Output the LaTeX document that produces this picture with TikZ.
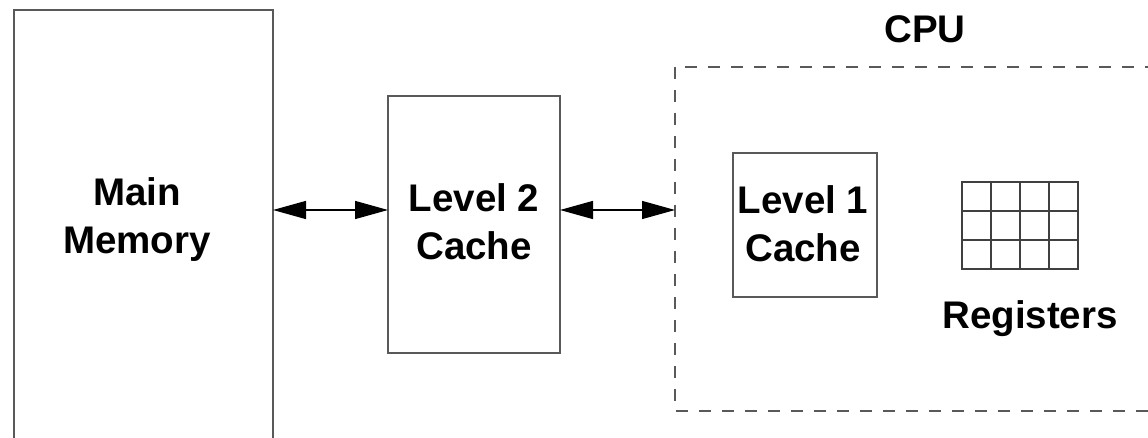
\documentclass[tikz,border=0pt]{standalone}
\usepackage{fontspec}
\setmainfont{Liberation Sans}
\usetikzlibrary{arrows.meta}
\begin{document}
\begin{tikzpicture}[x=1pt,y=-1pt,
  box/.style={draw=black!65,line width=1.6pt,fill=none},
  lbl/.style={font=\fontsize{38.5}{48}\selectfont\bfseries,align=center,inner sep=0pt},
  biarrow/.style={line width=1.4pt,{Triangle[length=33pt,width=18pt]}-{Triangle[length=33pt,width=18pt]}},
  gridline/.style={draw=black!75,line width=1.3pt}]
\clip (0,0) rectangle (1148,438);
\fill[white] (0,0) rectangle (1148,438);
% main memory
\draw[box] (14,10) rectangle (273,460);
\coordinate (mmE) at (273,210);
\node[lbl] (mmtext) at (137,220) {Main\\Memory};
% level 2
\draw[box] (388,96) rectangle (560,353);
\coordinate (l2W) at (388,210);
\coordinate (l2E) at (560,210);
\node[lbl] (l2text) at (474,222) {Level 2\\Cache};
% cpu
\draw[draw=black!65,line width=1.6pt,dash pattern=on 12pt off 11pt] (675,67) rectangle (1170,411);
\coordinate (cpuW) at (675,210);
\node[lbl,anchor=base] (cputext) at (925,43) {CPU};
% level 1
\draw[box] (733,153) rectangle (877,297);
\node[lbl] (l1text) at (803,224) {Level 1\\Cache};
% registers
\draw[gridline] (962,182) rectangle (1078,269);
\foreach \x in {991,1020,1049} \draw[gridline] (\x,182) -- (\x,269);
\foreach \y in {211,240} \draw[gridline] (962,\y) -- (1078,\y);
\node[lbl,anchor=base] (regtext) at (1030,328) {Registers};
% arrows
\draw[biarrow] (mmE) -- (l2W);
\draw[biarrow] (l2E) -- (cpuW);
\end{tikzpicture}
\end{document}
